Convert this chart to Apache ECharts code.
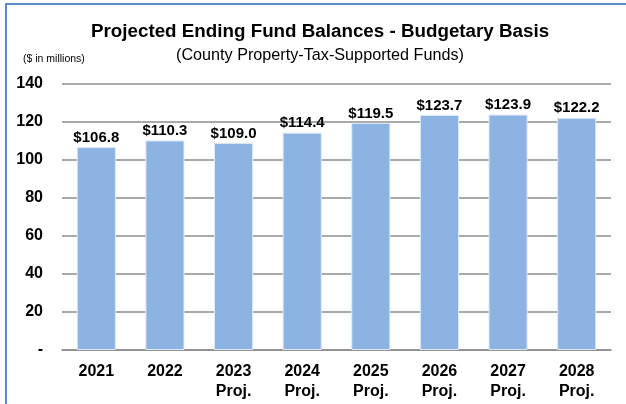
<!DOCTYPE html>
<html>
<head>
<meta charset="utf-8">
<script src="https://cdn.jsdelivr.net/npm/echarts@6/dist/echarts.min.js"></script>
<style>
  html, body { margin: 0; padding: 0; background: #fff; }
  #chart { width: 626px; height: 404px; }
</style>
</head>
<body>
<div id="chart"></div>
<script>
// 数据
const years = ['2021', '2022', '2023', '2024', '2025', '2026', '2027', '2028']
const suffix = ['', '', 'Proj.', 'Proj.', 'Proj.', 'Proj.', 'Proj.', 'Proj.']
const balances = [106.8, 110.3, 109.0, 114.4, 119.5, 123.7, 123.9, 122.2]
const yTicks = [0, 20, 40, 60, 80, 100, 120, 140]

const categories = years.map((y, i) => suffix[i] ? y + '\n' + suffix[i] : y)

let myChart = echarts.init(document.getElementById('chart'))
let font = 'Liberation Sans, Arial, sans-serif'
let option = {
  animation: false,
  textStyle: { fontFamily: font },
  // 标题
  title: [
    {
      text: 'Projected Ending Fund Balances - Budgetary Basis',
      left: 86,
      top: 17,
      textStyle: { fontSize: 18.8, fontWeight: 'bold', color: '#000', fontFamily: font }
    },
    {
      text: '(County Property-Tax-Supported Funds)',
      left: 171,
      top: 43,
      textStyle: { fontSize: 16.2, fontWeight: 'normal', color: '#000', fontFamily: font }
    },
    {
      text: '($ in millions)',
      left: 18,
      top: 49,
      textStyle: { fontSize: 10.5, fontWeight: 'normal', color: '#000', fontFamily: font }
    }
  ],
  // 外框
  graphic: [
    {
      type: 'rect',
      shape: { x: 6, y: 4, width: 700, height: 500 },
      style: { fill: 'none', stroke: '#5b8cc9', lineWidth: 2 }
    }
  ],
  grid: { left: 62, right: 15, top: 84, bottom: 54 },
  xAxis: {
    type: 'category',
    data: categories,
    axisLine: { lineStyle: { color: '#8c8c8c', width: 1.5 } },
    axisTick: { show: false },
    axisLabel: {
      color: '#000',
      fontSize: 16,
      fontWeight: 'bold',
      margin: 12,
      lineHeight: 20
    }
  },
  yAxis: {
    type: 'value',
    min: yTicks[0],
    max: yTicks[yTicks.length - 1],
    interval: 20,
    axisLine: { show: false },
    axisTick: { show: false },
    splitLine: { lineStyle: { color: '#8c8c8c', width: 1.5 } },
    axisLabel: {
      color: '#000',
      fontSize: 16,
      fontWeight: 'bold',
      margin: 19,
      formatter: v => v === 0 ? '-' : v
    }
  },
  series: [
    {
      type: 'bar',
      data: balances,
      barCategoryGap: '43%',
      itemStyle: { color: '#8db3e2', borderColor: '#dfe9f6', borderWidth: 1 },
      label: {
        show: true,
        position: 'top',
        distance: 2,
        color: '#000',
        fontSize: 15,
        fontWeight: 'bold',
        formatter: p => '$' + p.value.toFixed(1)
      }
    }
  ]
}
myChart.setOption(option)
</script>
</body>
</html>
